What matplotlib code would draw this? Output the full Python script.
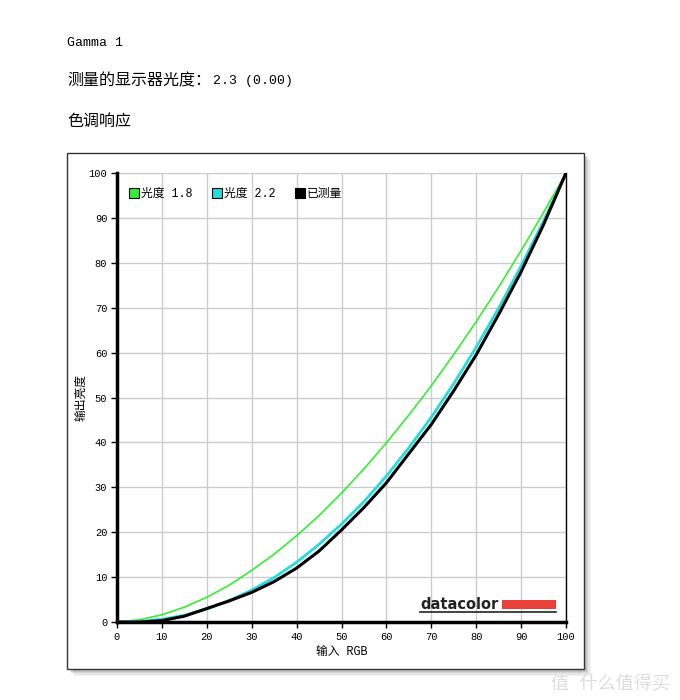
import matplotlib.pyplot as plt
from matplotlib.patches import Rectangle
from matplotlib.lines import Line2D

plt.rcParams['font.family'] = ['Liberation Mono', 'Noto Sans CJK SC', 'DejaVu Sans']

# input RGB (%)
x_in = [0, 5, 10, 15, 20, 25, 30, 35, 40, 45, 50, 55, 60, 65, 70, 75, 80, 85, 90, 95, 100]
# gamma 1.8 reference
g18 = [0, 0.5, 1.6, 3.3, 5.5, 8.2, 11.5, 15.1, 19.2, 23.7, 28.7, 34.1, 39.9, 46.1,
       52.6, 59.6, 66.9, 74.6, 82.7, 91.2, 100]
# gamma 2.2 reference
g22 = [0, 0.1, 0.6, 1.5, 2.9, 4.8, 7.1, 9.9, 13.3, 17.3, 21.8, 26.8, 32.5, 38.8,
       45.6, 53.1, 61.2, 69.9, 79.3, 89.3, 100]
# measured
meas = [0, 0.0, 0.3, 1.3, 3.0, 4.7, 6.6, 9.0, 12.0, 15.8, 20.5, 25.5, 31.0, 37.5,
        44.0, 51.5, 59.5, 68.5, 78.0, 88.5, 100]

ticks = list(range(0, 101, 10))
labels = ['光度 1.8', '光度 2.2', '已测量']
colors = ['#33ee33', '#22dddd', '#000000']

fig = plt.figure(figsize=(6.8, 7.0), dpi=100)
W, H = 680, 700

# header text
fig.text(67 / W, 1 - 43 / H, 'Gamma 1', fontsize=9.5, va='center')
fig.text(67 / W, 1 - 81 / H, '测量的显示器光度：', fontsize=11.5, va='center',
         family='Noto Sans CJK SC')
fig.text(213 / W, 1 - 81 / H, '2.3 (0.00)', fontsize=9.5, va='center')
fig.text(67 / W, 1 - 121 / H, '色调响应', fontsize=11.5, va='center',
         family='Noto Sans CJK SC')

# frame with shadow
for i, a in enumerate([0.08, 0.12, 0.18, 0.25]):
    off = 7 - i * 1.5
    fig.patches.append(Rectangle(((67 + off) / W, 1 - (669 + off) / H), 517 / W, 516 / H,
                                 transform=fig.transFigure, facecolor='#888888', alpha=a,
                                 edgecolor='none', zorder=0))
fig.patches.append(Rectangle((67 / W, 1 - 669 / H), 517 / W, 516 / H,
                             transform=fig.transFigure, facecolor='white',
                             edgecolor='#333333', linewidth=1.0, zorder=1))

ax = fig.add_axes([117 / W, 78 / H, 449 / W, 449 / H])
ax.set_zorder(2)
ax.set_facecolor('none')

ax.plot(x_in, g18, color=colors[0], lw=1.2, zorder=3)
ax.plot(x_in, g22, color=colors[1], lw=2.0, zorder=4)
ax.plot(x_in, meas, color=colors[2], lw=2.2, zorder=5)

ax.set_xlim(0, 100)
ax.set_ylim(0, 100)
ax.set_xticks(ticks)
ax.set_yticks(ticks)
ax.grid(True, color='#cccccc', lw=1.0, zorder=0)
ax.tick_params(labelsize=7.5, length=4, width=1, direction='out', pad=3)
for s in ['left', 'bottom']:
    ax.spines[s].set_linewidth(2.5)
ax.spines['top'].set_visible(False)
ax.spines['right'].set_linewidth(1.0)

ax.set_xlabel('输入 RGB', fontsize=8.5, labelpad=3)
ax.set_ylabel('输出亮度', fontsize=8.5, labelpad=1)

handles = [Line2D([], [], marker='s', linestyle='None', markersize=7,
                  markerfacecolor=c, markeredgecolor='black', markeredgewidth=0.8)
           for c in colors]
ax.legend(handles, labels, loc='upper left', ncol=3, frameon=False, fontsize=8.5,
          handletextpad=0.1, columnspacing=1.6, handlelength=1.0,
          bbox_to_anchor=(0.0, 0.99))

# datacolor logo
ax.text(0.675, 0.040, 'datacolor', transform=ax.transAxes, fontsize=10.5,
        fontweight='heavy', family='DejaVu Sans', color='#222222', va='center',
        ha='left', zorder=6)
ax.add_patch(Rectangle((0.857, 0.028), 0.121, 0.021, transform=ax.transAxes,
                       facecolor='#e8413a', edgecolor='none', zorder=6))
ax.add_line(Line2D([0.675, 0.978], [0.022, 0.022], transform=ax.transAxes,
                   color='#222222', lw=1.2, zorder=6))

# watermark
fig.text(0.985, 1 - 685 / H, '值 什么值得买', fontsize=13, color='#dddddd',
         ha='right', va='center')

fig.savefig('out.png', dpi=100)
